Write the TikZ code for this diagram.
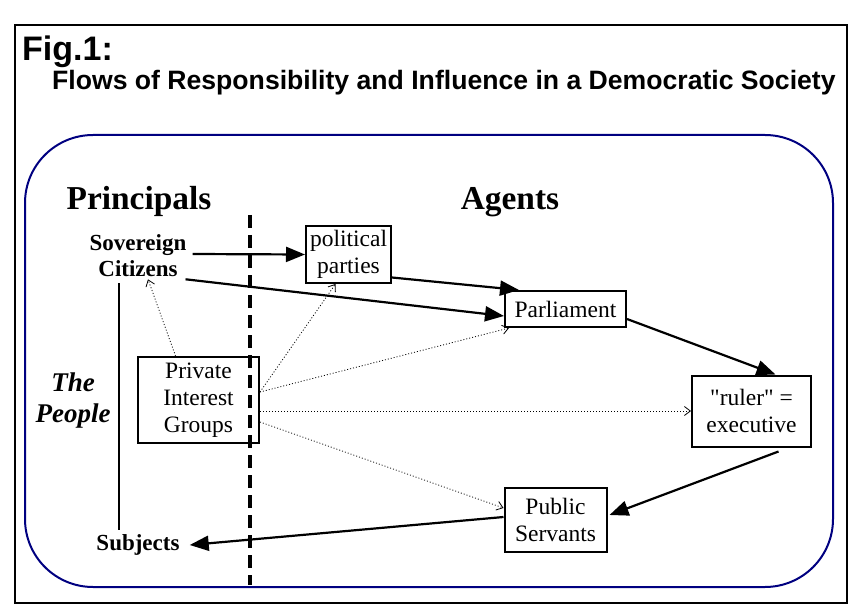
\documentclass[tikz,border=0pt]{standalone}
\usepackage{fontspec}
\setmainfont{Liberation Serif}[Ligatures=TeXOff]
\newfontfamily\arialfont{Liberation Sans}
\usetikzlibrary{arrows.meta,calc}
\definecolor{frameblue}{RGB}{0,0,128}
\begin{document}
\begin{tikzpicture}[x=1pt,y=-1pt,
  box/.style={draw,line width=2pt,align=center,inner sep=0pt,font=\fontsize{23.5}{27}\selectfont},
  lbl/.style={align=center,inner sep=2pt,font=\bfseries\fontsize{23}{26}\selectfont},
  flow/.style={line width=2.2pt,-{Triangle[length=19pt,width=15pt]}},
  infl/.style={line width=0.8pt,dash pattern=on 1pt off 2pt,-{Straight Barb[length=6pt,width=9pt,line width=0.8pt]}}]
\useasboundingbox (0,0) rectangle (862,604);
% frames
\draw[line width=2pt] (15,25) rectangle (847,603);
\draw[line width=2pt,frameblue,rounded corners=68pt] (25,135) rectangle (833,587);
% titles
\node[anchor=base west,inner sep=0pt,font=\arialfont\bfseries\fontsize{34}{38}\selectfont] (fig) at (22,61) {Fig.1:};
\node[anchor=base west,inner sep=0pt,font=\arialfont\bfseries\fontsize{26.6}{30}\selectfont] (title) at (52,90) {Flows of Responsibility and Influence in a Democratic Society};
\node[anchor=base,inner sep=0pt,font=\bfseries\fontsize{33.4}{38}\selectfont] (princ) at (139,210) {Principals};
\node[anchor=base,inner sep=0pt,font=\bfseries\fontsize{33.4}{38}\selectfont] (agents) at (510,210) {Agents};
% dashed divider
\draw[line width=4pt,dash pattern=on 13pt off 7pt] (250,215) coordinate (dtop) -- (250,585) coordinate (dbot);
% nodes
\node[lbl] (sc) at (138,256) {Sovereign\\Citizens};
\node[lbl] (subj) at (138,545) {Subjects};
\node[lbl,font=\bfseries\itshape\fontsize{27}{31}\selectfont] (people) at (73,401) {The\\People};
\node[box,minimum width=85pt,minimum height=57pt] (pp) at (348.5,254.5) {political\\parties};
\node[box,minimum width=121pt,minimum height=36pt] (parl) at (565.5,309) {Parliament};
\node[box,minimum width=119pt,minimum height=71pt] (exec) at (751.5,411) {"ruler" =\\executive};
\node[box,minimum width=102pt,minimum height=64pt] (ps) at (555.5,520) {Public\\Servants};
\node[box,minimum width=121pt,minimum height=86pt] (pig) at (198.5,400) {Private\\Interest\\Groups};
% people line
\draw[line width=1.6pt] ($(sc.south)+(-19,4)$) -- ($(subj.north)+(-19,-2)$);
% flows of responsibility
\draw[flow] ($(sc.east)+(4,-2)$) -- (pp.west);
\draw[flow] ($(sc.south east)+(-3,0)$) -- ($(parl.west)+(0,7)$);
\draw[flow] ($(pp.east)+(0,23)$) -- ($(parl.north west)+(15,0)$);
\draw[flow] ($(parl.east)+(0,10)$) -- ($(exec.north)+(24,0)$);
\draw[flow] ($(exec.south)+(27,4)$) -- ($(ps.east)+(2,-5)$);
\draw[flow] ($(ps.west)+(0,-3)$) -- ($(subj.east)+(8,0)$);
% flows of influence
\draw[infl] ($(pig.north)+(-23,0)$) -- ($(sc.south)+(10,0)$);
\draw[infl] ($(pig.east)+(0,-8)$) -- ($(pp.south)+(-13,0)$);
\draw[infl] ($(pig.east)+(0,-8)$) -- ($(parl.south west)+(5,0)$);
\draw[infl] (pig.east |- exec.west) -- (exec.west);
\draw[infl] ($(pig.east)+(0,22)$) -- ($(ps.west)+(0,-12)$);
\end{tikzpicture}
\end{document}
